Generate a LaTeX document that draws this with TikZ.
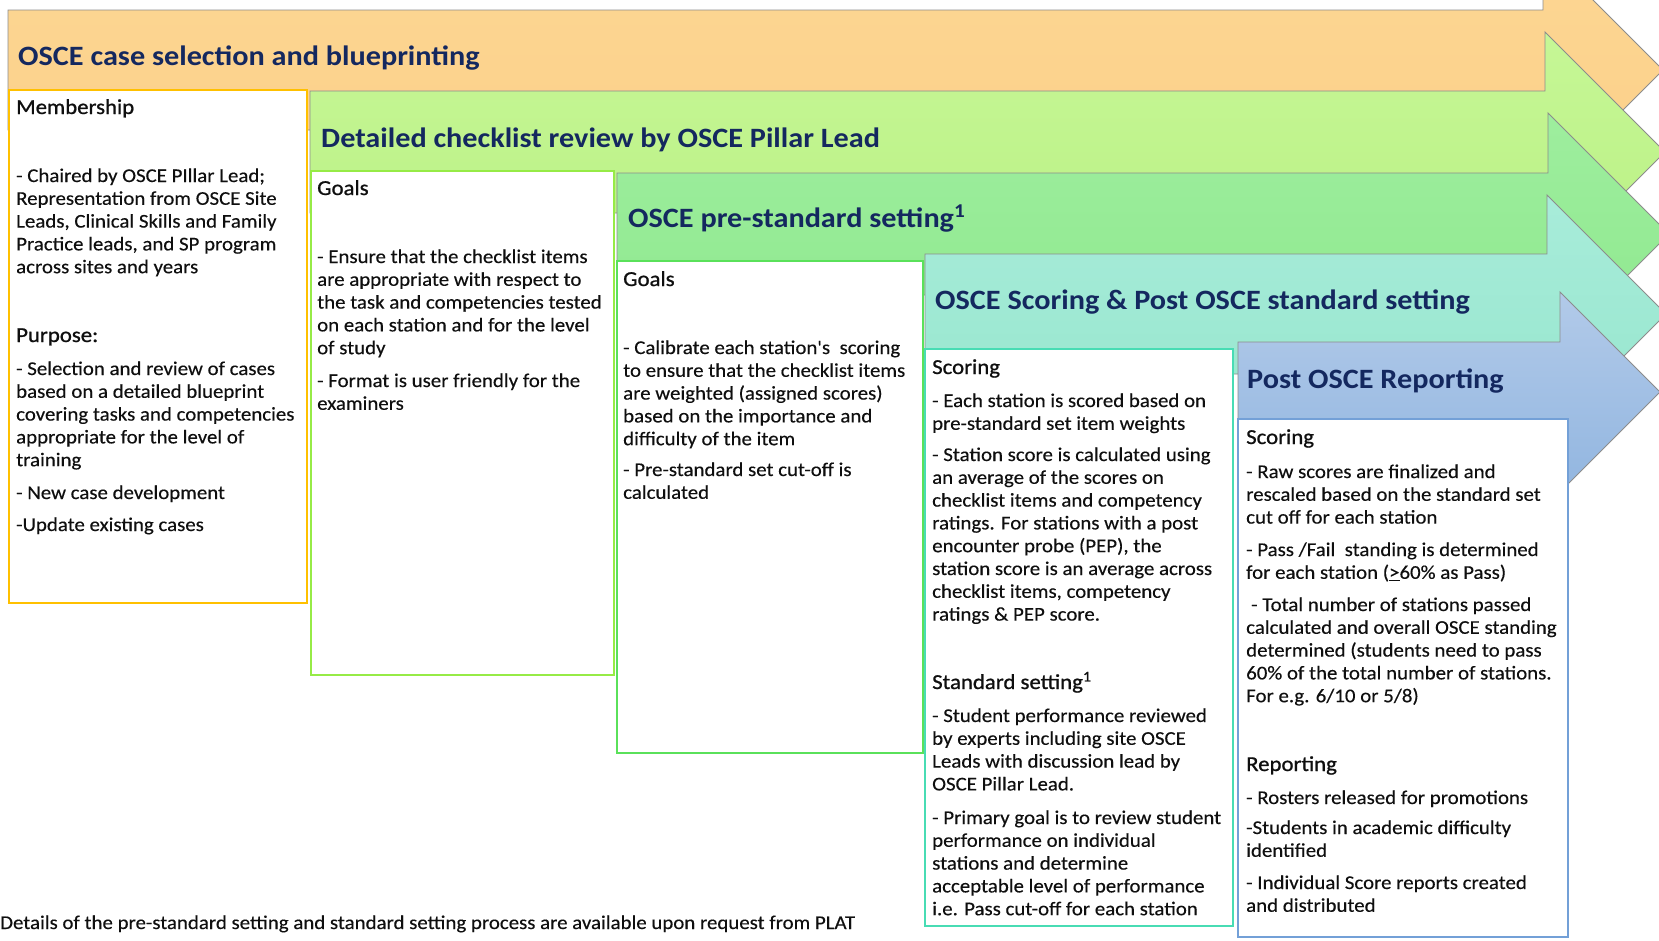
\documentclass[tikz,border=0pt]{standalone}
\usepackage{fontspec}
\newfontfamily\bodyfont{Carlito}[FakeStretch=1.07, FakeBold=0.3]
\newfontfamily\headfont{Carlito}[FakeStretch=1.07, FakeBold=0.9]
\newfontfamily\titlefont{Carlito}[FakeStretch=1.08]

% stage colours
\definecolor{titleblue}{RGB}{20,40,95}
\definecolor{bodytext}{RGB}{15,15,15}
\definecolor{arrowline}{RGB}{140,140,140}
\definecolor{orangetop}{RGB}{253,215,148}
\definecolor{orangebot}{RGB}{251,207,136}
\definecolor{limetop}{RGB}{198,247,150}
\definecolor{limebot}{RGB}{186,240,132}
\definecolor{greentop}{RGB}{158,238,158}
\definecolor{greenbot}{RGB}{142,232,142}
\definecolor{tealtop}{RGB}{168,236,218}
\definecolor{tealbot}{RGB}{150,230,205}
\definecolor{bluetop}{RGB}{178,202,233}
\definecolor{bluebot}{RGB}{146,182,224}
% panel borders
\definecolor{membborder}{RGB}{255,192,0}
\definecolor{checkborder}{RGB}{150,235,70}
\definecolor{preborder}{RGB}{90,225,90}
\definecolor{scoreborder}{RGB}{72,220,180}
\definecolor{postborder}{RGB}{115,160,215}

% a top-aligned block of lines whose baseline is that of its first line
\newcommand\linestack[1]{\begin{tabular}[t]{@{}l@{}}#1\end{tabular}}

\tikzset{
  stagearrow/.style={draw=arrowline, line width=0.9pt, line join=miter},
  panel/.style={draw, line width=2pt, fill=white, anchor=north west,
    inner sep=0pt, outer sep=0pt},
  stagetitle/.style={anchor=base west, inner sep=0pt, text=titleblue,
    font=\titlefont\bfseries\fontsize{28}{32}\selectfont},
  parthead/.style={anchor=base west, inner sep=0pt, text=bodytext,
    font=\headfont\fontsize{21.3}{24}\selectfont},
  parttext/.style={anchor=base west, inner sep=0pt, text=bodytext,
    font=\bodyfont\fontsize{19.5}{22.8}\selectfont},
}

\begin{document}
\begin{tikzpicture}[x=1pt,y=-1pt]
\useasboundingbox (0,0) rectangle (1659,940);

\begin{scope}
\clip (0,0) rectangle (1659,940);

% stage 1: case selection
\path[stagearrow, top color=orangetop, bottom color=orangebot]
  (8,10) -- (1543,10) -- (1543,-50) -- (1663,70) -- (1543,190)
  -- (1543,130) -- (8,130) -- cycle;
\node[panel, draw=membborder, minimum width=298, minimum height=513]
  (membbox) at (8.5,90) {};

% stage 2: checklist review
\path[stagearrow, top color=limetop, bottom color=limebot]
  (310,91) -- (1545,91) -- (1545,32) -- (1665,152) -- (1545,272)
  -- (1545,213) -- (310,213) -- cycle;
\node[panel, draw=checkborder, minimum width=303, minimum height=504]
  (checkbox) at (311,171) {};

% stage 3: pre-standard setting
\path[stagearrow, top color=greentop, bottom color=greenbot]
  (617,173) -- (1548,173) -- (1548,113) -- (1669,234) -- (1548,355)
  -- (1548,295) -- (617,295) -- cycle;
\node[panel, draw=preborder, minimum width=306, minimum height=492]
  (prebox) at (617,261) {};

% stage 4: scoring and standard setting
\path[stagearrow, top color=tealtop, bottom color=tealbot]
  (925,254) -- (1547,254) -- (1547,195) -- (1666,314) -- (1547,433)
  -- (1547,374) -- (925,374) -- cycle;
\node[panel, draw=scoreborder, minimum width=308, minimum height=577]
  (scorebox) at (925,349) {};

% stage 5: reporting
\path[stagearrow, top color=bluetop, bottom color=bluebot]
  (1238,342) -- (1560,342) -- (1560,292) -- (1660,392) -- (1560,492)
  -- (1560,442) -- (1238,442) -- cycle;
\node[panel, draw=postborder, minimum width=330, minimum height=518]
  (postbox) at (1238,419) {};
\end{scope}

% stage titles
\node[stagetitle] (titleone) at (18,65) {OSCE case selection and blueprinting};
\node[stagetitle] (titletwo) at (321,147) {Detailed checklist review by OSCE Pillar Lead};
\node[stagetitle] (titlethree) at (628,227) {OSCE pre-standard setting\textsuperscript{1}};
\node[stagetitle] (titlefour) at (935,309) {OSCE Scoring \& Post OSCE standard setting};
\node[stagetitle] (titlefive) at (1247,388) {Post OSCE Reporting};

% stage 1 panel
\node[parthead] (memhead) at (16,114) {Membership};
\node[parttext] (memtext) at (16,182) {\linestack{- Chaired by OSCE PIllar Lead;\\Representation from OSCE Site\\Leads, Clinical Skills and Family\\Practice leads, and SP program\\across sites and years}};
\node[parthead] (purhead) at (16,342) {Purpose:};
\node[parttext] (purtext) at (16,375) {\linestack{- Selection and review of cases\\based on a detailed blueprint\\covering tasks and competencies\\appropriate for the level of\\training}};
\node[parttext] (newcase) at (16,499) {- New case development};
\node[parttext] (update) at (16,531) {-Update existing cases};

% stage 2 panel
\node[parthead] (chkhead) at (317,195) {Goals};
\node[parttext] (chkone) at (317,263) {\linestack{- Ensure that the checklist items\\are appropriate with respect to\\the task and competencies tested\\on each station and for the level\\of study}};
\node[parttext] (chktwo) at (317,387) {\linestack{- Format is user friendly for the\\examiners}};

% stage 3 panel
\node[parthead] (prehead) at (623,286) {Goals};
\node[parttext] (preone) at (623,354) {\linestack{- Calibrate each station's\ \ scoring\\to ensure that the checklist items\\are weighted (assigned scores)\\based on the importance and\\difficulty of the item}};
\node[parttext] (pretwo) at (623,476) {\linestack{- Pre-standard set cut-off is\\calculated}};

% stage 4 panel
\node[parthead] (schead) at (932,374) {Scoring};
\node[parttext] (scone) at (932,407) {\linestack{- Each station is scored based on\\pre-standard set item weights}};
\node[parttext] (sctwo) at (932,461) {\linestack{- Station score is calculated using\\an average of the scores on\\checklist items and competency\\ratings. For stations with a post\\encounter probe (PEP), the\\station score is an average across\\checklist items, competency\\ratings \& PEP score.}};
\node[parthead] (sshead) at (932,689) {Standard setting\textsuperscript{1}};
\node[parttext] (ssone) at (932,722) {\linestack{- Student performance reviewed\\by experts including site OSCE\\Leads with discussion lead by\\OSCE Pillar Lead.}};
\node[parttext] (sstwo) at (932,824) {\linestack{- Primary goal is to review student\\performance on individual\\stations and determine\\acceptable level of performance\\i.e. Pass cut-off for each station}};

% stage 5 panel
\node[parthead] (pshead) at (1246,444) {Scoring};
\node[parttext] (psone) at (1246,478) {\linestack{- Raw scores are finalized and\\rescaled based on the standard set\\cut off for each station}};
\node[parttext] (pstwo) at (1246,556) {\linestack{- Pass /Fail\ \ standing is determined\\for each station (\underline{>}60\% as Pass)}};
\node[parttext] (psthree) at (1246,611) {\linestack{\hspace*{5pt}- Total number of stations passed\\calculated and overall OSCE standing\\determined (students need to pass\\60\% of the total number of stations.\\For e.g. 6/10 or 5/8)}};
\node[parthead] (rphead) at (1246,771) {Reporting};
\node[parttext] (rpone) at (1246,804) {- Rosters released for promotions};
\node[parttext] (rptwo) at (1246,834) {\linestack{-Students in academic difficulty\\identified}};
\node[parttext] (rpthree) at (1246,889) {\linestack{- Individual Score reports created\\and distributed}};

% footnote
\node[parttext] (footnote) at (0,929) {Details of the pre-standard setting and standard setting process are available upon request from PLAT};
\end{tikzpicture}
\end{document}
